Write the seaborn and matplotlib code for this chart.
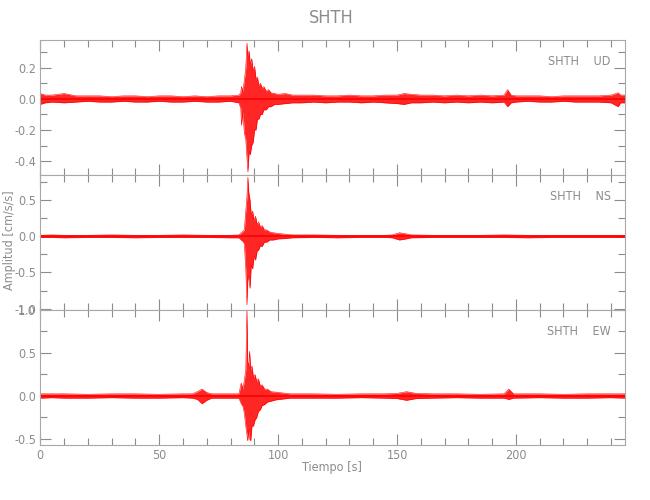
import matplotlib
matplotlib.use('Agg')
import matplotlib.pyplot as plt
import seaborn as sns
from matplotlib.ticker import MultipleLocator

t_ud = [0, 2, 5, 10, 15, 20, 25, 30, 35, 40, 45, 50, 55, 60, 65, 70, 75, 80, 83.5,
        84.3, 84.6, 85.2, 85.8, 86.4, 86.9, 87.3, 87.8, 88.3, 88.9, 89.5, 90.1, 90.7,
        91.3, 91.9, 92.6, 93.3, 94.0, 95.0, 96.0, 97.0, 98.5, 100, 103, 106,
        110, 115, 120, 125, 130, 135, 140, 145, 150, 153, 156, 160, 165, 170, 175,
        180, 185, 190, 195, 196.5, 198, 200, 205, 210, 215, 220, 225, 230, 235,
        240, 243, 244, 246]
hi_ud = [0.035, 0.025, 0.025, 0.035, 0.02, 0.02, 0.02, 0.015, 0.02, 0.02, 0.015, 0.02,
         0.02, 0.015, 0.02, 0.015, 0.02, 0.02, 0.025,
         0.04, 0.08, 0.05, 0.12, 0.20, 0.36, 0.28, 0.31, 0.22, 0.26, 0.18, 0.21, 0.13,
         0.14, 0.09, 0.10, 0.07, 0.08, 0.05, 0.06, 0.04, 0.035, 0.03, 0.035, 0.025,
         0.025, 0.025, 0.02, 0.02, 0.025, 0.02, 0.02, 0.025, 0.025, 0.035, 0.03, 0.025,
         0.025, 0.02, 0.025, 0.02, 0.025, 0.02, 0.025, 0.06, 0.025, 0.02, 0.02, 0.02,
         0.015, 0.02, 0.02, 0.02, 0.02, 0.025, 0.04, 0.025, 0.025]
lo_ud = [-0.035, -0.025, -0.02, -0.025, -0.02, -0.015, -0.02, -0.02, -0.015, -0.02,
         -0.02, -0.015, -0.02, -0.02, -0.015, -0.02, -0.02, -0.015, -0.025,
         -0.06, -0.17, -0.08, -0.22, -0.26, -0.38, -0.47, -0.34, -0.36, -0.30, -0.28,
         -0.20, -0.20, -0.13, -0.13, -0.10, -0.10, -0.07, -0.07, -0.05, -0.05, -0.035,
         -0.035, -0.03, -0.025,
         -0.025, -0.02, -0.025, -0.02, -0.02, -0.025, -0.02, -0.025, -0.03, -0.035,
         -0.025, -0.025, -0.02, -0.025, -0.02, -0.025, -0.02, -0.025, -0.02, -0.05,
         -0.025, -0.02, -0.015, -0.02, -0.02, -0.015, -0.02, -0.02, -0.02, -0.025,
         -0.05, -0.025, -0.025]

t_ns = [0, 5, 10, 20, 30, 40, 50, 60, 70, 80, 83.5,
        84.5, 85.2, 85.8, 86.4, 86.9, 87.3, 87.7, 88.2, 88.7, 89.3, 89.9, 90.5,
        91.2, 91.8, 92.5, 93.3, 94.2, 95.2, 96.5, 98, 100, 103, 106,
        115, 125, 135, 145, 148, 151, 153, 156, 165, 175, 185, 195, 205, 215,
        225, 235, 246]
hi_ns = [0.015, 0.02, 0.015, 0.015, 0.02, 0.015, 0.015, 0.02, 0.015, 0.015, 0.02,
         0.05, 0.07, 0.09, 0.35, 0.55, 0.82, 0.60, 0.50, 0.30, 0.35, 0.22, 0.28,
         0.16, 0.20, 0.13, 0.15, 0.09, 0.09, 0.06, 0.05, 0.04, 0.03, 0.02,
         0.02, 0.015, 0.015, 0.015, 0.02, 0.05, 0.04, 0.02, 0.015, 0.015, 0.015,
         0.02, 0.015, 0.015, 0.015, 0.015, 0.015]
lo_ns = [-0.015, -0.015, -0.02, -0.015, -0.015, -0.02, -0.015, -0.015, -0.015, -0.02,
         -0.02, -0.05, -0.07, -0.10, -0.45, -0.95, -0.55, -0.60, -0.72, -0.40,
         -0.45, -0.28, -0.33, -0.20, -0.19, -0.13, -0.14, -0.08, -0.08, -0.05,
         -0.05, -0.035, -0.03, -0.02,
         -0.015, -0.02, -0.015, -0.015, -0.02, -0.05, -0.04, -0.02, -0.015, -0.015,
         -0.015, -0.015, -0.02, -0.015, -0.015, -0.015, -0.015]

t_ew = [0, 5, 10, 20, 30, 40, 50, 60, 64, 66, 68, 70, 72, 78, 83.5,
        84.5, 85.2, 85.8, 86.4, 86.9, 87.2, 87.7, 88.0, 88.5, 89.0, 89.6, 90.3,
        91.0, 91.7, 92.5, 93.3, 94.3, 95.5, 97, 99, 102, 105,
        115, 125, 135, 145, 150, 154, 158, 165, 175, 185, 195, 197, 199, 210,
        220, 230, 240, 246]
hi_ew = [0.025, 0.025, 0.025, 0.02, 0.025, 0.025, 0.02, 0.025, 0.025, 0.05, 0.08, 0.04,
         0.025, 0.025, 0.025,
         0.15, 0.08, 0.18, 0.30, 1.02, 0.40, 0.35, 0.52, 0.30, 0.35, 0.22, 0.25,
         0.17, 0.20, 0.12, 0.13, 0.08, 0.08, 0.05, 0.045, 0.035, 0.025,
         0.025, 0.02, 0.025, 0.025, 0.03, 0.05, 0.03, 0.025, 0.025, 0.02, 0.025,
         0.08, 0.025, 0.025, 0.02, 0.025, 0.025, 0.025]
lo_ew = [-0.025, -0.02, -0.025, -0.025, -0.02, -0.025, -0.025, -0.02, -0.025, -0.04,
         -0.09, -0.05, -0.025, -0.025, -0.025,
         -0.09, -0.12, -0.20, -0.35, -0.45, -0.52, -0.40, -0.50, -0.52, -0.35,
         -0.35, -0.28, -0.25, -0.18, -0.16, -0.11, -0.10, -0.07, -0.06, -0.045,
         -0.035, -0.025,
         -0.025, -0.025, -0.02, -0.025, -0.03, -0.05, -0.03, -0.025, -0.02, -0.025,
         -0.025, -0.04, -0.025, -0.02, -0.025, -0.025, -0.02, -0.025]

canales = ['UD', 'NS', 'EW']
ylims = [(-0.49, 0.38), (-1.02, 0.85), (-0.57, 1.0)]
ymajor = [0.2, 0.5, 0.5]
yminor = [0.1, 0.25, 0.25]

gris = '#8c8c8c'
sns.set_style('ticks')
plt.rcParams['font.family'] = ['DejaVu Sans']
plt.rcParams['font.stretch'] = 'condensed'
plt.rcParams['axes.unicode_minus'] = False

fig, axes = plt.subplots(3, 1, figsize=(6.5, 5), dpi=100, sharex=True)
fig.subplots_adjust(left=0.062, right=0.962, top=0.92, bottom=0.11, hspace=0)

datos = [(t_ud, hi_ud, lo_ud), (t_ns, hi_ns, lo_ns), (t_ew, hi_ew, lo_ew)]
for i, ax in enumerate(axes):
    t, hi, lo = datos[i]
    ax.fill_between(t, lo, hi, color='red', alpha=0.85, linewidth=0)
    sns.lineplot(x=t, y=hi, ax=ax, color='red', linewidth=0.4)
    sns.lineplot(x=t, y=lo, ax=ax, color='red', linewidth=0.4)
    ax.axhline(0, color='red', linewidth=1.2)
    ax.set_xlim(0, 246)
    ax.set_ylim(*ylims[i])
    ax.xaxis.set_major_locator(MultipleLocator(50))
    ax.xaxis.set_minor_locator(MultipleLocator(10))
    ax.yaxis.set_major_locator(MultipleLocator(ymajor[i]))
    ax.yaxis.set_minor_locator(MultipleLocator(yminor[i]))
    ax.tick_params(which='both', direction='in', top=True, right=True,
                   colors=gris, labelcolor=gris, labelsize=9, width=0.8, pad=3)
    ax.tick_params(which='major', length=8)
    ax.tick_params(which='minor', length=5)
    for s in ax.spines.values():
        s.set_color('#a8a8a8')
        s.set_linewidth(0.8)
    ax.text(0.975, 0.84, 'SHTH    ' + canales[i], transform=ax.transAxes,
            ha='right', va='center', color=gris, fontsize=9)
    if i < 2:
        ax.tick_params(labelbottom=False)

axes[2].set_xticks([0, 50, 100, 150, 200])
fig.text(0.51, 0.964, 'SHTH', ha='center', va='center', color=gris, fontsize=13)
fig.text(0.51, 0.066, 'Tiempo [s]', ha='center', va='center', color=gris, fontsize=9)
fig.text(0.014, 0.52, 'Amplitud [cm/s/s]', ha='center', va='center', color=gris,
         fontsize=9, rotation=90)

fig.savefig('out.png', dpi=100)
